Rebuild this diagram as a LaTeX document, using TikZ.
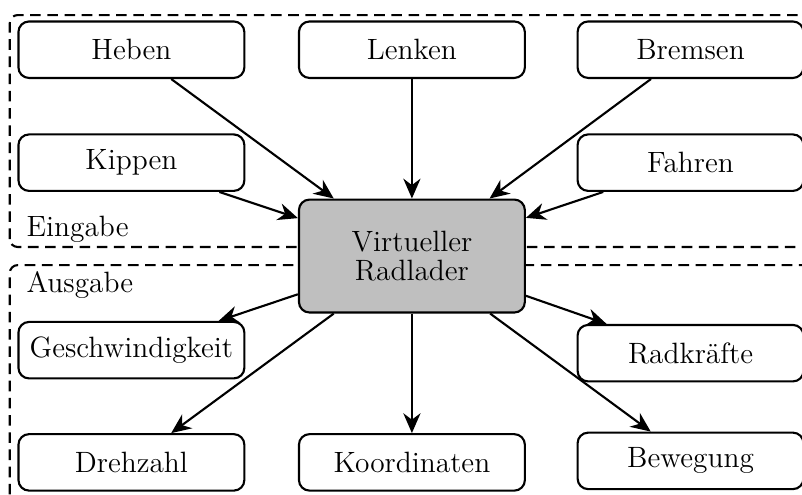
\documentclass[tikz,border=0pt]{standalone}
\usepackage{tikz}
\usetikzlibrary{arrows.meta}

\begin{document}
\begin{tikzpicture}[>={Stealth[length=7.5pt, width=6.5pt]}, thick,
    every node/.style={font=\fontsize{11.1}{10.7}\selectfont},
    box/.style={draw, rounded corners=4pt, minimum width=3cm, minimum height=0.75cm},
    rahmen/.style={draw, rounded corners=3pt, dash pattern=on 4pt off 2.5pt}]
    \useasboundingbox (-5.47,-3.17) rectangle (5.18,3.40);
    % Input and output regions
    \draw[rahmen] (-5.34,0.12) rectangle (5.6,3.20);
    \draw[rahmen] (-5.34,-3.5) rectangle (5.6,-0.12);
    \node[anchor=base west, inner sep=0] (eingabe) at (-5.13,0.256) {Eingabe};
    \node[anchor=base west, inner sep=0] (ausgabe) at (-5.13,-0.482) {Ausgabe};
    % Central model
    \node[box, fill=black!25, minimum height=1.5cm, align=center] (vr) at (0,0) {Virtueller\\Radlader};
    % Inputs
    \node[box] (heben) at (-3.725,2.74) {Heben};
    \node[box] (lenken) at (0,2.74) {Lenken};
    \node[box] (bremsen) at (3.70,2.74) {Bremsen};
    \node[box] (kippen) at (-3.725,1.24) {Kippen};
    \node[box] (fahren) at (3.70,1.24) {Fahren};
    % Outputs
    \node[box] (geschw) at (-3.725,-1.25) {Geschwindigkeit};
    \node[box] (radkraefte) at (3.70,-1.29) {Radkräfte};
    \node[box] (drehzahl) at (-3.725,-2.74) {Drehzahl};
    \node[box] (koordinaten) at (0,-2.74) {Koordinaten};
    \node[box] (bewegung) at (3.70,-2.72) {Bewegung};
    % Arrows
    \foreach \n in {heben, lenken, bremsen, kippen, fahren}
        \draw[->] (\n) -- (vr);
    \foreach \n in {geschw, radkraefte, drehzahl, koordinaten, bewegung}
        \draw[->] (vr) -- (\n);
\end{tikzpicture}
\end{document}
